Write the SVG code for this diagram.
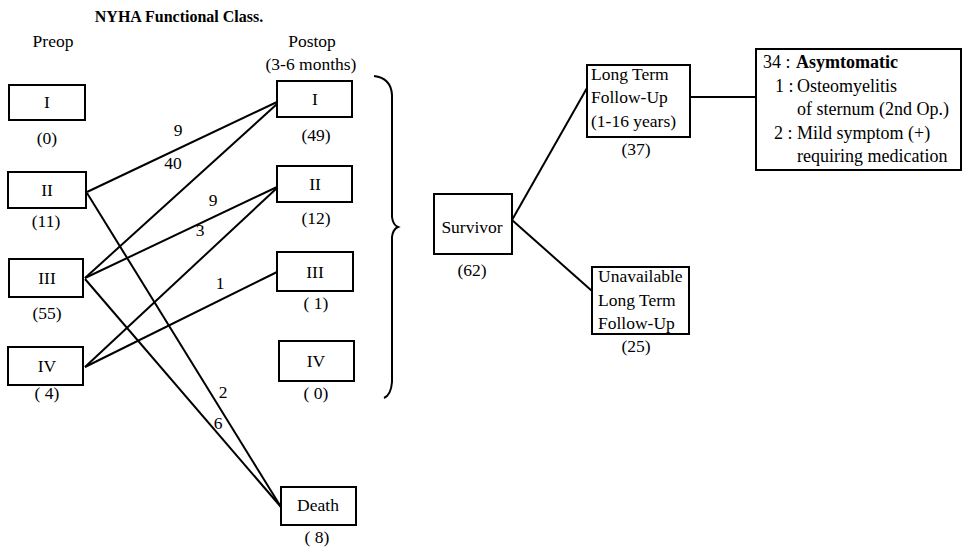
<svg xmlns="http://www.w3.org/2000/svg" width="964" height="547" viewBox="0 0 964 547">
<style>
text{font-family:"Liberation Serif","Times New Roman",serif;font-size:17.5px;fill:#000}
.c{text-anchor:middle}
.b{fill:#fff;stroke:#000;stroke-width:2}
.ln{stroke:#000;stroke-width:2;fill:none}
.t{font-weight:bold;font-size:16px}
.r{font-size:18px}
</style>
<rect width="964" height="547" fill="#fff"/>
<g id="headings">
<text class="c t" x="179" y="22">NYHA Functional Class.</text>
<text class="c" x="53" y="47">Preop</text>
<text class="c" x="312" y="47">Postop</text>
<text class="c" x="311" y="70">(3-6 months)</text>
</g>
<g id="connectors">
<line class="ln" x1="87" y1="192" x2="277" y2="102"/>
<line class="ln" x1="85" y1="278" x2="277" y2="104"/>
<line class="ln" x1="85" y1="278" x2="277" y2="187"/>
<line class="ln" x1="85" y1="367" x2="277" y2="188"/>
<line class="ln" x1="85" y1="367" x2="277" y2="272"/>
<line class="ln" x1="87" y1="193" x2="281" y2="507"/>
<line class="ln" x1="85" y1="279" x2="281" y2="507"/>
<path class="ln" stroke-width="2.5" d="M374,76 Q391,78 392,95 L392,217 Q393,225 398,227 Q393,229 392,237 L392,382 Q391,395 384,398"/>
<line class="ln" x1="512" y1="220" x2="587" y2="88"/>
<line class="ln" x1="512" y1="220" x2="592" y2="291"/>
<line class="ln" x1="690" y1="97" x2="756" y2="97"/>
<text class="c" x="178" y="136">9</text>
<text class="c" x="173" y="169">40</text>
<text class="c" x="213" y="206">9</text>
<text class="c" x="200" y="236">3</text>
<text class="c" x="220" y="289">1</text>
<text class="c" x="223" y="398">2</text>
<text class="c" x="218" y="429">6</text>
</g>
<g id="pre1"><rect class="b" x="9" y="85" width="76" height="35"/><text class="c" x="47" y="108">I</text><text class="c" x="47" y="144">(0)</text></g>
<g id="pre2"><rect class="b" x="8" y="172" width="78" height="36"/><text class="c" x="47" y="196">II</text><text class="c" x="46" y="227">(11)</text></g>
<g id="pre3"><rect class="b" x="9" y="259" width="74" height="38"/><text class="c" x="47" y="284">III</text><text class="c" x="47" y="319">(55)</text></g>
<g id="pre4"><rect class="b" x="8" y="347" width="75" height="38"/><text class="c" x="47" y="372">IV</text><text class="c" x="47" y="399">( 4)</text></g>
<g id="post1"><rect class="b" x="277" y="81" width="75" height="36"/><text class="c" x="315" y="105">I</text><text class="c" x="316" y="141">(49)</text></g>
<g id="post2"><rect class="b" x="277" y="166" width="75" height="36"/><text class="c" x="315" y="190">II</text><text class="c" x="316" y="224">(12)</text></g>
<g id="post3"><rect class="b" x="277" y="252" width="76" height="39"/><text class="c" x="315" y="278">III</text><text class="c" x="316" y="309">( 1)</text></g>
<g id="post4"><rect class="b" x="279" y="341" width="75" height="40"/><text class="c" x="316" y="367">IV</text><text class="c" x="316" y="399">( 0)</text></g>
<g id="death"><rect class="b" x="281" y="487" width="75" height="38"/><text class="c" x="318" y="511">Death</text><text class="c" x="317" y="543">( 8)</text></g>
<g id="survivor"><rect class="b" x="434" y="194" width="78" height="60"/><text class="c" x="472" y="233">Survivor</text><text class="c" x="472" y="276">(62)</text></g>
<g id="longterm"><rect class="b" x="587" y="65" width="103" height="72"/><text x="591" y="80">Long Term</text><text x="591" y="103">Follow-Up</text><text x="591" y="127">(1-16 years)</text><text class="c" x="636" y="155">(37)</text></g>
<g id="unavailable"><rect class="b" x="592" y="267" width="97" height="67"/><text x="598" y="282">Unavailable</text><text x="598" y="306">Long Term</text><text x="598" y="329">Follow-Up</text><text class="c" x="636" y="352">(25)</text></g>
<g id="outcomes"><rect class="b" x="756" y="49" width="205" height="121"/>
<text class="r" y="68"><tspan x="763">34 :</tspan><tspan x="796" font-weight="bold">Asymtomatic</tspan></text>
<text class="r" y="92"><tspan x="775">1 :</tspan><tspan x="797">Osteomyelitis</tspan></text>
<text class="r" x="797" y="115">of sternum (2nd Op.)</text>
<text class="r" y="139"><tspan x="774">2 :</tspan><tspan x="797">Mild symptom (+)</tspan></text>
<text class="r" x="797" y="162">requiring medication</text>
</g>
</svg>
